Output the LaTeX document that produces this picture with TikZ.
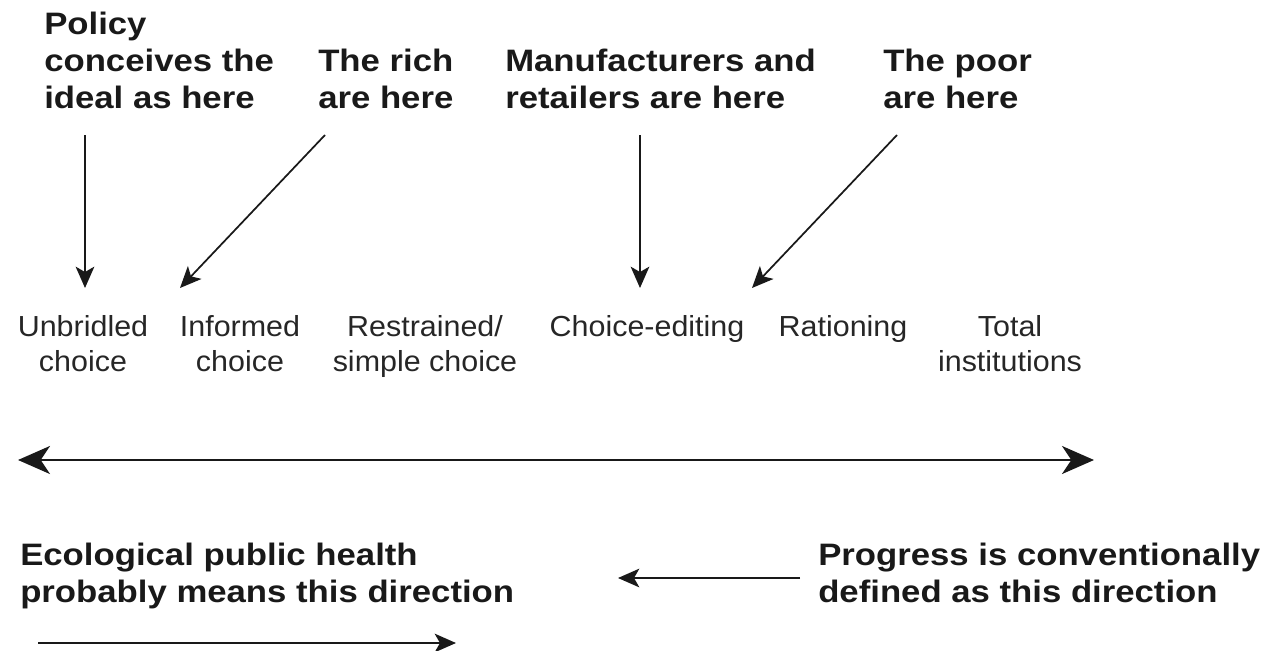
\documentclass[tikz,border=0pt]{standalone}
\usepackage{fontspec}
\setmainfont{Liberation Sans}
\newfontfamily\headfont[FakeStretch=1.12]{Liberation Sans}
\newfontfamily\itemfont[FakeStretch=1.05]{Liberation Sans}
\usetikzlibrary{
    positioning,
    arrows.meta,
    calc
}

\begin{document}
\begin{tikzpicture}[x=0.75pt,y=-0.75pt,
    head/.style={font=\headfont\bfseries\fontsize{23.25pt}{27.4pt}\selectfont,
        align=left, anchor=base west, inner sep=0pt, text=black!90},
    item/.style={font=\itemfont\fontsize{21.75pt}{26.25pt}\selectfont,
        align=center, anchor=base, inner sep=0pt, text=black!85},
    pointer/.style={-{Stealth[length=16pt,width=14pt,inset=4pt]}, line width=1.3pt, black!90},
    spanline/.style={{Stealth[length=24pt,width=21pt,inset=7pt]}-{Stealth[length=24pt,width=21pt,inset=7pt]}, line width=2pt, black!90}]
            % Frame
            \useasboundingbox (0,0) rectangle (1278,650);

            % Who is where (base = last line)
            \node[head] (policy) at (44,108) {Policy\\conceives the\\ideal as here};
            \node[head] (rich) at (318,108) {The rich\\are here};
            \node[head] (makers) at (505,108) {Manufacturers and\\retailers are here};
            \node[head] (poor) at (883,108) {The poor\\are here};

            % Kinds of choice
            \node[item] (unbridled) at (83,371) {Unbridled\\choice};
            \node[item] (informed) at (240,371) {Informed\\choice};
            \node[item] (restrained) at (425,371) {Restrained/\\simple choice};
            \node[item] (editing) at (647,336) {Choice-editing};
            \node[item] (rationing) at (843,336) {Rationing};
            \node[item] (total) at (1010,371) {Total\\institutions};

            % Pointer ends
            \coordinate (policyA) at (85,135);
            \coordinate (policyB) at (85,288);
            \coordinate (richA) at (325,135);
            \coordinate (richB) at (180,288);
            \coordinate (makersA) at (640,135);
            \coordinate (makersB) at (640,288);
            \coordinate (poorA) at (897,135);
            \coordinate (poorB) at (752,288);

            \draw[pointer] (policyA) -- (policyB);
            \draw[pointer] (richA) -- (richB);
            \draw[pointer] (makersA) -- (makersB);
            \draw[pointer] (poorA) -- (poorB);

            % The scale
            \coordinate (L) at (18,460);
            \coordinate (R) at (1094,460);
            \draw[spanline] (L) -- (R);

            % Directions
            \node[head] (eph) at (20,602) {Ecological public health\\probably means this direction};
            \node[head] (progress) at (818,602) {Progress is conventionally\\defined as this direction};

            \coordinate (progA) at (800,578);
            \coordinate (progB) at (618,578);
            \draw[pointer] (progA) -- (progB);

            \coordinate (ephA) at (38,643);
            \coordinate (ephB) at (456,643);
            \draw[pointer] (ephA) -- (ephB);
          \end{tikzpicture}
\end{document}
